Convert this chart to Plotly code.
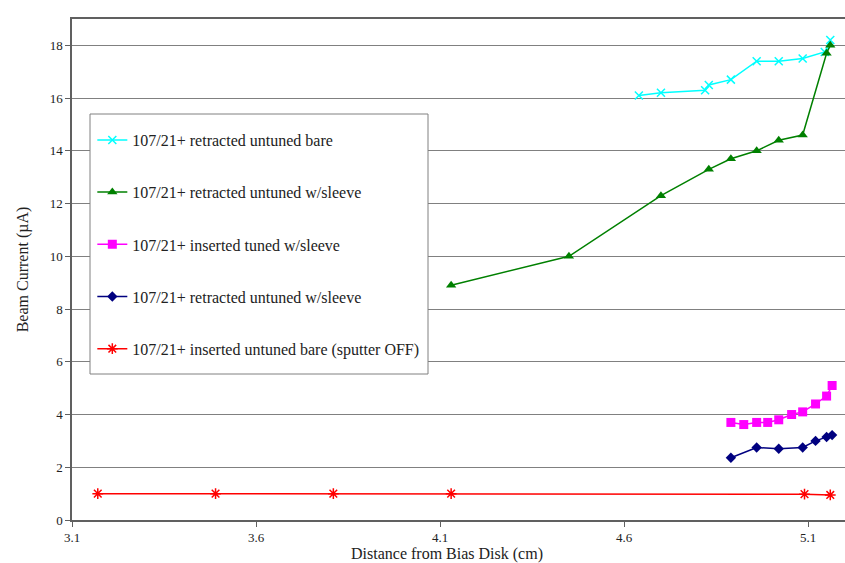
import plotly.graph_objects as go

# ---- data ----
cyan_x = [4.64, 4.70, 4.82, 4.83, 4.89, 4.96, 5.02, 5.085, 5.145, 5.16]
cyan_y = [16.1, 16.2, 16.3, 16.5, 16.7, 17.4, 17.4, 17.5, 17.75, 18.2]

green_x = [4.13, 4.45, 4.70, 4.83, 4.89, 4.96, 5.02, 5.085, 5.15, 5.16]
green_y = [8.9, 10.0, 12.3, 13.3, 13.7, 14.0, 14.4, 14.6, 17.7, 18.0]

magenta_x = [4.89, 4.925, 4.96, 4.99, 5.02, 5.055, 5.085, 5.12, 5.15, 5.165]
magenta_y = [3.7, 3.62, 3.7, 3.7, 3.8, 4.0, 4.1, 4.4, 4.7, 5.1]

navy_x = [4.89, 4.96, 5.02, 5.085, 5.12, 5.15, 5.165]
navy_y = [2.36, 2.75, 2.7, 2.75, 3.0, 3.15, 3.22]

red_x = [3.17, 3.49, 3.81, 4.13, 5.09, 5.16]
red_y = [1.0, 1.0, 1.0, 1.0, 0.98, 0.95]

names = [
    "107/21+ retracted untuned bare",
    "107/21+ retracted untuned w/sleeve",
    "107/21+ inserted tuned w/sleeve",
    "107/21+ retracted untuned w/sleeve",
    "107/21+ inserted untuned bare (sputter OFF)",
]
x_ticks = [3.1, 3.6, 4.1, 4.6, 5.1]
y_ticks = [0, 2, 4, 6, 8, 10, 12, 14, 16, 18]

FONT = "Liberation Serif"

fig = go.Figure()
series = [
    (cyan_x, cyan_y, "#00FFFF", "x-thin-open", 8, 1.5),
    (green_x, green_y, "#008000", "triangle-up", 9, 0),
    (magenta_x, magenta_y, "#FF00FF", "square", 9, 0),
    (navy_x, navy_y, "#000080", "diamond", 8, 0),
    (red_x, red_y, "#FF0000", "asterisk-open", 9, 1.5),
]
for i, (xs, ys, col, sym, sz, lw) in enumerate(series):
    fig.add_trace(go.Scatter(
        x=xs, y=ys, mode="lines+markers", name=names[i],
        legendgroup=f"g{i}",
        line=dict(color=col, width=1.5),
        marker=dict(symbol=sym, size=sz, color=col,
                    line=dict(color=col, width=lw)),
    ))

# legend frame
lx0, lx1 = (90 - 72) / 773, (428 - 72) / 773
ly0, ly1 = (520 - 374) / 501, (520 - 114) / 501
fig.add_shape(type="rect", xref="paper", yref="paper",
              x0=lx0, x1=lx1, y0=ly0, y1=ly1,
              line=dict(color="#808080", width=1), fillcolor="white",
              layer="above")

fig.update_layout(
    width=845, height=563,
    margin=dict(l=72, r=0, t=19, b=43, autoexpand=False),
    paper_bgcolor="white", plot_bgcolor="white",
    font=dict(family=FONT, size=13, color="#222222"),
    showlegend=True,
    legend=dict(x=lx0 + 0.003, y=ly1 - 0.018, xanchor="left", yanchor="top",
                bgcolor="rgba(0,0,0,0)", borderwidth=0,
                font=dict(family=FONT, size=16, color="#222222"),
                tracegroupgap=28.4, itemwidth=30),
    xaxis=dict(range=[3.1, 5.2], tickvals=x_ticks,
               ticktext=[str(v) for v in x_ticks], automargin=False,
               showgrid=False, zeroline=False,
               showline=True, linecolor="#606060", linewidth=1.5, mirror=True,
               ticks="outside", ticklen=5, tickcolor="#606060",
               tickfont=dict(family=FONT, size=13, color="#222222")),
    yaxis=dict(range=[0, 19], tickvals=y_ticks, automargin=False,
               showgrid=True, gridcolor="#808080", gridwidth=1,
               zeroline=False,
               showline=True, linecolor="#606060", linewidth=1.5,
               ticks="outside", ticklen=5, tickcolor="#606060",
               tickfont=dict(family=FONT, size=13, color="#222222"),
               title=dict(text="Beam Current (µA)", standoff=17,
                          font=dict(family=FONT, size=16, color="#222222"))),
)
fig.add_annotation(text="Distance from Bias Disk (cm)", xref="paper", yref="paper",
                   x=(447 - 72) / 773, y=0, yshift=-34, xanchor="center",
                   yanchor="middle", showarrow=False,
                   font=dict(family=FONT, size=16, color="#222222"))

fig.write_html("out.html", config={"displayModeBar": False},
               post_script="document.body.style.margin='0';document.body.style.padding='0';")
